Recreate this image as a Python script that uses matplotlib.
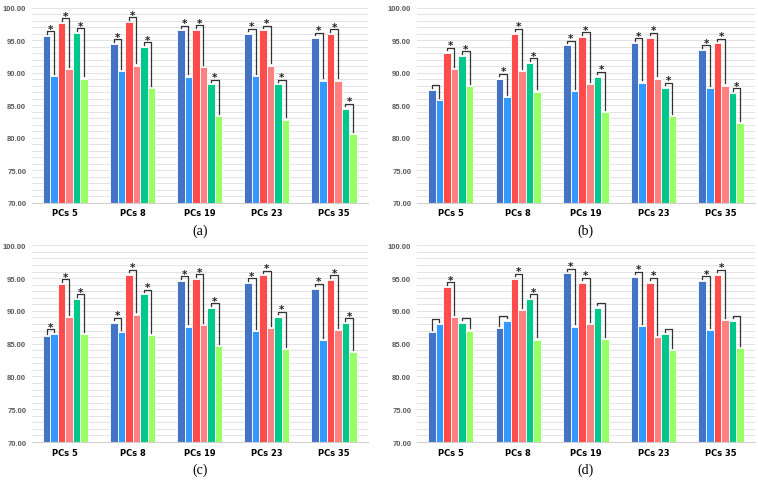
import numpy as np
import matplotlib
matplotlib.use('Agg')
import matplotlib.pyplot as plt

# Grupos (eje x)
groups = ['PCs 5', 'PCs 8', 'PCs 19', 'PCs 23', 'PCs 35']
panel_labels = ['(a)', '(b)', '(c)', '(d)']

# Valores por panel: 6 series (filas) x 5 grupos (columnas)
vals_a = [
    [95.6, 94.4, 96.5, 96.0, 95.4],
    [89.5, 90.3, 89.4, 89.5, 88.8],
    [97.6, 97.8, 96.6, 96.5, 95.9],
    [90.5, 91.1, 90.9, 91.1, 88.8],
    [96.1, 93.9, 88.2, 88.2, 84.5],
    [89.1, 87.6, 83.3, 82.8, 80.6],
]
vals_b = [
    [87.3, 89.1, 94.2, 94.6, 93.5],
    [85.8, 86.3, 87.2, 88.5, 87.6],
    [93.1, 96.0, 95.5, 95.4, 94.5],
    [90.6, 90.2, 88.3, 89.1, 88.0],
    [92.6, 91.5, 89.4, 87.7, 86.9],
    [87.9, 87.1, 83.9, 83.3, 82.3],
]
vals_c = [
    [86.1, 88.2, 94.5, 94.2, 93.4],
    [86.5, 86.7, 87.6, 86.9, 85.5],
    [94.1, 95.5, 94.8, 95.4, 94.7],
    [89.0, 89.4, 87.8, 87.4, 87.1],
    [91.8, 92.5, 90.4, 89.1, 88.1],
    [86.4, 86.3, 84.6, 84.2, 83.7],
]
vals_d = [
    [86.7, 87.4, 95.7, 95.2, 94.5],
    [88.0, 88.5, 87.6, 87.7, 87.1],
    [93.6, 94.9, 94.3, 94.3, 95.5],
    [89.0, 90.1, 88.0, 86.0, 88.6],
    [88.2, 91.8, 90.5, 86.5, 88.5],
    [87.0, 85.6, 85.7, 84.0, 84.3],
]

# Asterisco por par (serie 1-2, 3-4, 5-6) en cada grupo
sig_a = [[1, 1, 1], [1, 1, 1], [1, 1, 1], [1, 1, 1], [1, 1, 1]]
sig_b = [[0, 1, 1], [1, 1, 1], [1, 1, 1], [1, 1, 1], [1, 1, 1]]
sig_c = [[1, 1, 1], [1, 1, 1], [1, 1, 1], [1, 1, 1], [1, 1, 1]]
sig_d = [[0, 1, 0], [0, 1, 1], [1, 1, 0], [1, 1, 0], [1, 1, 0]]

colors = ['#4472C4', '#3399FF', '#FF4B4B', '#FF8080', '#00C88C', '#99FF66']

fig = plt.figure(figsize=(7.58, 4.81), dpi=100)
positions = [
    [0.042, 0.576, 0.443, 0.406],
    [0.550, 0.576, 0.446, 0.406],
    [0.042, 0.079, 0.443, 0.409],
    [0.550, 0.079, 0.446, 0.409],
]
all_vals = [vals_a, vals_b, vals_c, vals_d]
all_sig = [sig_a, sig_b, sig_c, sig_d]

bw = 0.112
x = np.arange(len(groups))

for pos, vals, sig, lab in zip(positions, all_vals, all_sig, panel_labels):
    ax = fig.add_axes(pos)
    for i, serie in enumerate(vals):
        ax.bar(x + (i - 2.5) * bw, serie, bw, bottom=0, color=colors[i],
               edgecolor='white', linewidth=0.6, zorder=3)

    # Corchetes de significancia
    for g in range(len(groups)):
        for p in range(3):
            i1, i2 = 2 * p, 2 * p + 1
            x1 = x[g] + (i1 - 2.5) * bw
            x2 = x[g] + (i2 - 2.5) * bw
            y1, y2 = vals[i1][g], vals[i2][g]
            h = max(y1, y2) + 0.75
            ax.plot([x1, x1, x2, x2], [y1 + 0.35, h, h, y2 + 0.35],
                    color='#333333', lw=0.9, zorder=4)
            if sig[g][p]:
                ax.text((x1 + x2) / 2, h - 0.4, '*', ha='center', va='bottom',
                        fontsize=7.5, fontweight='bold', color='#222222', zorder=5)

    ax.set_ylim(70, 100)
    ax.set_xlim(-0.5, 4.5)
    ax.set_yticks(np.arange(70, 101, 5))
    ax.set_yticks(np.arange(70, 101, 1), minor=True)
    ax.set_yticklabels(['%.2f' % v for v in np.arange(70, 101, 5)],
                       fontsize=5.5, color='#595959', fontweight='bold',
                       family=['Liberation Sans Narrow', 'Liberation Sans'])
    ax.set_xticks(x)
    ax.set_xticklabels(groups, fontsize=6, fontweight='bold', color='black')
    ax.tick_params(axis='both', length=0, pad=4)
    ax.tick_params(axis='y', which='minor', length=0)
    ax.grid(axis='y', which='both', color='#E3E3E3', lw=0.7, zorder=0)
    for s in ['top', 'right', 'left']:
        ax.spines[s].set_visible(False)
    ax.spines['bottom'].set_color('#D0D0D0')
    ax.spines['bottom'].set_zorder(5)
    ax.text(0.5, -0.105, lab, transform=ax.transAxes, ha='center', va='top',
            fontsize=10, family='Liberation Serif')

fig.savefig('out.png', dpi=100)
